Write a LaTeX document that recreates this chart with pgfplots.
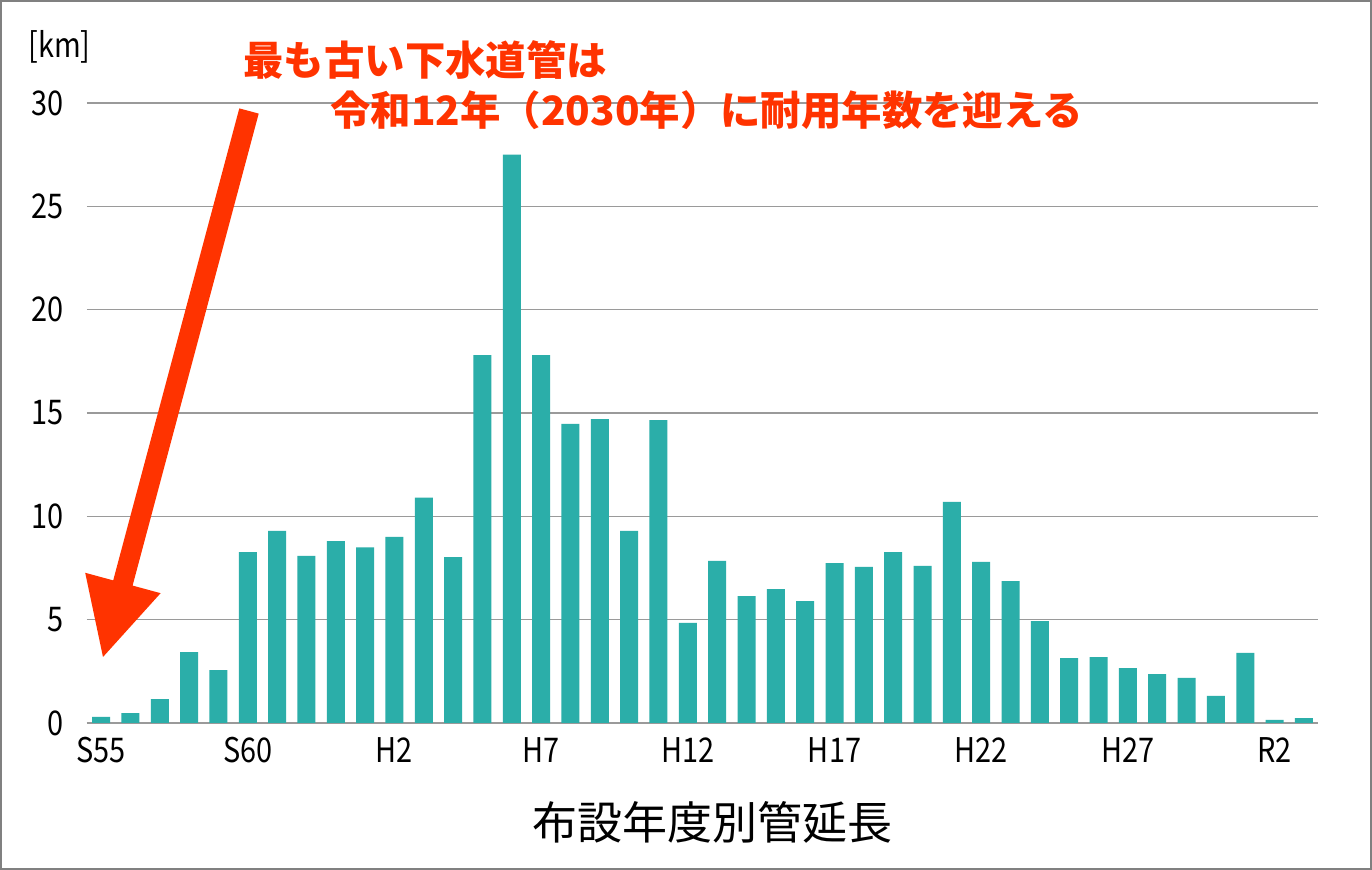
\documentclass[border=0pt]{standalone}
\usepackage{pgfplots}
\pgfplotsset{compat=1.18}
\usepackage{pgfplotstable}
\usepackage{fontspec}
\setmainfont{Noto Sans CJK JP}
\definecolor{barteal}{HTML}{2BAEA9}
\definecolor{annred}{HTML}{FF3300}
\definecolor{gridgray}{HTML}{9A9A9A}
\definecolor{framegray}{HTML}{808080}
\pgfplotstableread{
x y
0 0.29
1 0.48
2 1.16
3 3.43
4 2.56
5 8.27
6 9.29
7 8.08
8 8.8
9 8.5
10 9.0
11 10.9
12 8.03
13 17.8
14 27.5
15 17.8
16 14.47
17 14.7
18 9.29
19 14.66
20 4.84
21 7.84
22 6.14
23 6.48
24 5.9
25 7.74
26 7.55
27 8.27
28 7.6
29 10.7
30 7.79
31 6.87
32 4.93
33 3.14
34 3.19
35 2.66
36 2.37
37 2.18
38 1.31
39 3.39
40 0.15
41 0.24
}\datatable
\begin{document}
\begin{tikzpicture}
\fill[white] (0,0) rectangle (686pt,435pt);
\begin{axis}[
  at={(43.5pt,73.5pt)}, anchor=south west,
  scale only axis, width=615.5pt, height=310pt,
  xmin=-0.48, xmax=41.48, ymin=0, ymax=30,
  axis x line*=bottom, axis y line*=left,
  x axis line style={draw=gridgray, line width=0.6pt, -},
  y axis line style={draw=none},
  ytick={0,5,10,15,20,25,30},
  xtick={0,5,10,15,20,25,30,35,40},
  xticklabels={S55,S60,H2,H7,H12,H17,H22,H27,R2},
  major tick length=0pt,
  ymajorgrids, grid style={gridgray, line width=0.6pt},
  /pgf/number format/assume math mode=true,
  tick label style={font=\fontsize{17}{20}\selectfont, text=black, xscale=0.85},
  yticklabel style={inner sep=0pt, anchor=east, xshift=-13.5pt},
  xticklabel style={inner sep=0pt, anchor=north, yshift=-7pt},
  clip=false,
]
\addplot[ybar, bar width=9pt, fill=barteal, draw=none] table[x=x,y=y] {\datatable};
\end{axis}
\begin{scope}[x=0.5pt, y=-0.5pt, yshift=435pt]
  \node[anchor=west, inner sep=0pt, font=\fontsize{17}{20}\selectfont, xscale=0.85] at (28,47) {[km]};
  \node[anchor=center, inner sep=0pt, font=\fontsize{22.5}{26}\selectfont] at (712,822) {布設年度別管延長};
  \node[anchor=west, inner sep=0pt, text=annred, font=\fontsize{20.2}{24}\selectfont\bfseries] at (243,60) {最も古い下水道管は};
  \node[anchor=west, inner sep=0pt, text=annred, font=\fontsize{20.2}{24}\selectfont\bfseries] at (330,110) {令和12年（2030年）に耐用年数を迎える};
  \fill[annred] (239.3,108.4) -- (258.7,113.6) -- (132.6,585.6) -- (160.6,593.2) -- (103,657) -- (85.2,572.8) -- (113.2,580.4) -- cycle;
  \draw[framegray, line width=1pt] (1,1) rectangle (1371,869);
\end{scope}
\end{tikzpicture}
\end{document}
